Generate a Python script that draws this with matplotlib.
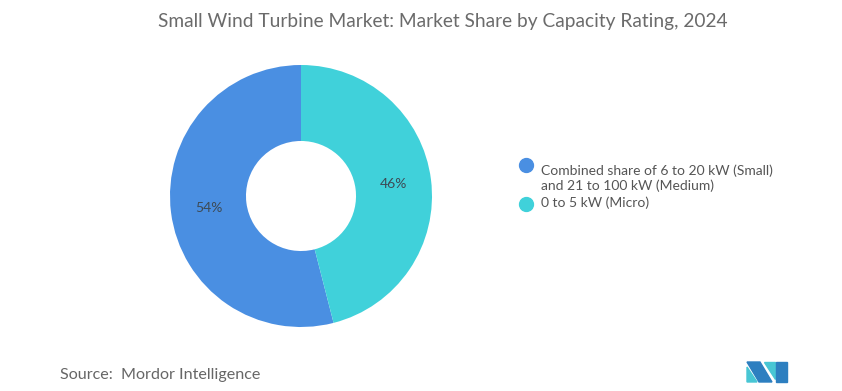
import matplotlib.pyplot as plt
from matplotlib.patches import Polygon

plt.rcParams['font.family'] = ['Lato', 'DejaVu Sans']

# data
labels = ["Combined share of 6 to 20 kW (Small)\nand 21 to 100 kW (Medium)", "0 to 5 kW (Micro)"]
shares = [54, 46]
colors = ["#4A8FE2", "#40D1DA"]

W, H = 842, 391
fig = plt.figure(figsize=(W / 100, H / 100), dpi=100)

# donut placed by pixel centre (301, 196) with radius 131
cx, cy, r = 301, 196, 131
ax = fig.add_axes([(cx - r) / W, (H - cy - r) / H, 2 * r / W, 2 * r / H])
wedges, texts, autotexts = ax.pie(
    shares, colors=colors, startangle=90, counterclock=True,
    autopct='%d%%', pctdistance=0.71,
    wedgeprops=dict(width=0.58, edgecolor='none'),
    textprops=dict(color='#3d4a55', fontsize=10))
ax.set_xlim(-1, 1)
ax.set_ylim(-1, 1)
ax.set_aspect('equal')
ax.axis('off')

fig.text(443 / W, 1 - 22 / H, "Small Wind Turbine Market: Market Share by Capacity Rating, 2024",
         ha='center', va='center', fontsize=13.8, color='#6b6b6b')

# legend (text only, round markers drawn separately)
leg = fig.legend(wedges, labels, loc='upper left', bbox_to_anchor=(512 / W, 1 - 152 / H),
                 frameon=False, fontsize=10, handlelength=0.9, handleheight=0.9,
                 handletextpad=0.3, labelspacing=0.35, labelcolor='#555555')
for h in leg.legend_handles:
    h.set_visible(False)
ys = [165, 204]
for y, c in zip(ys, colors):
    fig.add_artist(plt.Line2D([526 / W], [1 - y / H], marker='o', markersize=10,
                              color=c, linestyle='none', transform=fig.transFigure))

fig.text(60 / W, 1 - 375 / H, "Source:  Mordor Intelligence", ha='left', va='center',
         fontsize=11.6, color='#666666')

# logo
def px(x, y):
    return (x / W, 1 - y / H)
logo = [
    ([(747, 362), (760, 362), (772, 382), (759, 382)], '#2d7fc0'),
    ([(747, 367), (757, 382), (747, 382)], '#48c6d4'),
    ([(764, 362), (775, 362), (775, 379)], '#48c6d4'),
    ([(776, 362), (787, 362), (787, 382), (776, 382)], '#2d7fc0'),
]
for pts, c in logo:
    fig.add_artist(Polygon([px(*p) for p in pts], closed=True, color=c,
                           transform=fig.transFigure))

fig.savefig('out.png', dpi=100)
